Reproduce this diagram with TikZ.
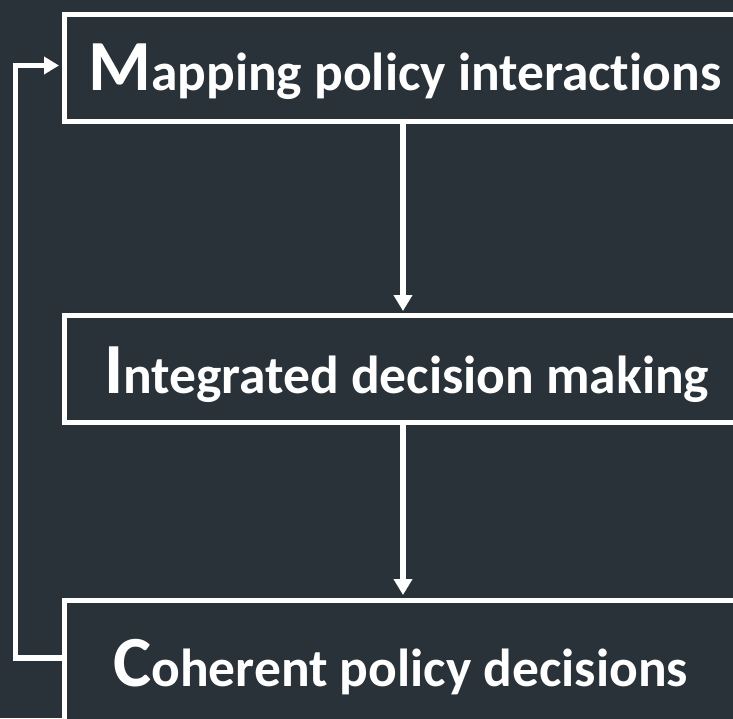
\documentclass[tikz,border=0pt]{standalone}
\usepackage{fontspec}
\setmainfont{Carlito}[Ligatures=NoCommon]
\usetikzlibrary{arrows.meta}
\definecolor{bgdark}{RGB}{40,50,56}
\begin{document}
\begin{tikzpicture}[x=1pt,y=-1pt,
  stagebox/.style={draw=white,line width=5pt,fill=bgdark,rectangle,anchor=north west,inner sep=0pt},
  stagetext/.style={text=white,anchor=base west,inner sep=0pt,font=\bfseries},
  flow/.style={draw=white,line width=5.5pt,-{Triangle[length=16pt,width=18pt]}}]
\useasboundingbox (0,0) rectangle (733,718);
\fill[bgdark] (0,0) rectangle (733,718);
\clip (0,0) rectangle (733,718);
% three stage boxes, running off the right edge
\node[stagebox,minimum width=720pt,minimum height=107pt] (map) at (61.5,11.5) {};
\node[stagebox,minimum width=720pt,minimum height=107pt] (idm) at (61.5,313) {};
\node[stagebox,minimum width=720pt,minimum height=160pt] (coh) at (61.5,597.5) {};
% stage titles with enlarged initials
\node[stagetext] (mapt) at (88,90) {\fontsize{72}{72}\selectfont M\fontsize{53.5}{53.5}\selectfont apping policy interactions};
\node[stagetext] (idmt) at (104,393) {\fontsize{72}{72}\selectfont I\fontsize{53.5}{53.5}\selectfont ntegrated decision making};
\node[stagetext] (coht) at (113,686) {\fontsize{72}{72}\selectfont C\fontsize{53.5}{53.5}\selectfont oherent policy decisions};
% downward flow
\coordinate (mapb) at (403,118.5);
\coordinate (idmtop) at (403,311);
\coordinate (idmb) at (403,419.5);
\coordinate (cohtop) at (403,595);
\draw[flow] (mapb) -- (idmtop);
\draw[flow] (idmb) -- (cohtop);
% feedback loop
\coordinate (fbstart) at (61.5,658);
\coordinate (fbend) at (59,65.5);
\draw[draw=white,line width=5.5pt,-{Triangle[length=15pt,width=17pt]}] (fbstart) -- (15.5,658) -- (15.5,65.5) -- (fbend);
\end{tikzpicture}
\end{document}
